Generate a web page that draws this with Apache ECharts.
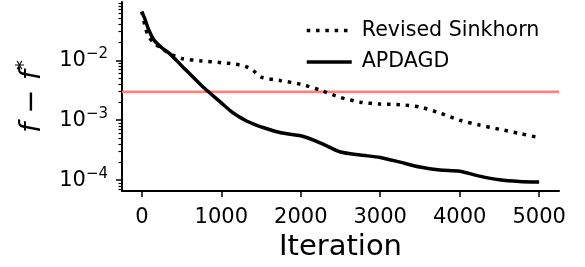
<!DOCTYPE html>
<html>
<head>
<meta charset="utf-8">
<script src="https://cdn.jsdelivr.net/npm/echarts@6/dist/echarts.min.js"></script>
<style>
  html, body { margin: 0; padding: 0; background: #fff; }
  #main { width: 585px; height: 267px; }
</style>
</head>
<body>
<div id="main"></div>
<script>
// 数据
var iterations = [0, 40, 80, 150, 250, 350, 500, 750, 1000, 1150, 1300, 1400, 1500, 1750, 2000,
  2250, 2500, 2750, 3000, 3250, 3500, 3750, 4000, 4250, 4500, 4750, 5000];
var sinkhornErr = [0.0646, 0.0372, 0.0257, 0.0195, 0.0158, 0.0129, 0.0107, 0.00977, 0.00912, 0.00871,
  0.00794, 0.00676, 0.00525, 0.00457, 0.00398, 0.00316, 0.00240, 0.00200, 0.00186, 0.00182,
  0.00166, 0.00132, 0.00100, 0.000832, 0.000708, 0.000603, 0.000513];
var apdagdErr = [0.0646, 0.0479, 0.0339, 0.0219, 0.0162, 0.0129, 0.00813, 0.00380, 0.00195, 0.00132,
  0.00100, 0.000871, 0.000776, 0.000617, 0.000550, 0.000417, 0.000295, 0.000263, 0.000240, 0.000200,
  0.000166, 0.000148, 0.000141, 0.000117, 0.000102, 0.0000955, 0.0000933];
var thresholdLevel = 0.003;

// 坐标轴范围和刻度
var xMin = -250, xMax = 5250;
var yMin = Math.pow(10, -4.18), yMax = Math.pow(10, -1.028);
var xTicks = [0, 1000, 2000, 3000, 4000, 5000];
var yMajorTicks = [1e-4, 1e-3, 1e-2];
var yMinorTicks = [];
for (var k = -5; k <= -2; k++) {
  for (var m = 2; m <= 9; m++) {
    yMinorTicks.push(m * Math.pow(10, k));
  }
}

function pairs(xs, ys) {
  var out = [];
  for (var i = 0; i < xs.length; i++) out.push([xs[i], ys[i]]);
  return out;
}

var font = 'DejaVu Sans';
var myChart = echarts.init(document.getElementById('main'));

var option = {
  animation: false,
  grid: {
    left: 122,
    right: 26,
    top: 2,
    bottom: 73
  },
  legend: {
    orient: 'vertical',
    left: 300,
    top: 15,
    itemWidth: 45,
    itemHeight: 14,
    itemGap: 10.4,
    data: ['Revised Sinkhorn', 'APDAGD'],
    itemStyle: { opacity: 0 },
    lineStyle: { width: 3.5 },
    textStyle: {
      fontFamily: font,
      fontSize: 20.6,
      color: '#000',
      lineHeight: 21,
      padding: [0, 0, 0, 5]
    }
  },
  xAxis: {
    type: 'value',
    min: xMin,
    max: xMax,
    name: 'Iteration',
    nameLocation: 'middle',
    nameGap: 42,
    nameTextStyle: { fontFamily: font, fontSize: 29, color: '#000' },
    splitLine: { show: false },
    axisLine: { onZero: false, lineStyle: { color: '#000', width: 2 } },
    axisTick: { customValues: xTicks, length: 6, lineStyle: { color: '#000', width: 1.5 } },
    axisLabel: {
      customValues: xTicks,
      fontFamily: font,
      fontSize: 21,
      color: '#000',
      margin: 16,
      formatter: function (v) { return String(v); }
    }
  },
  yAxis: [
    {
      type: 'log',
      min: yMin,
      max: yMax,
      name: '{i|f}{n| − }{i|f}{s|*}',
      nameLocation: 'middle',
      nameRotate: 90,
      nameGap: 72,
      nameMoveOverlap: false,
      nameTextStyle: {
        fontFamily: font,
        fontSize: 29,
        color: '#000',
        rich: {
          i: { fontFamily: font, fontSize: 29, fontStyle: 'italic', color: '#000' },
          n: { fontFamily: font, fontSize: 29, color: '#000' },
          s: { fontFamily: font, fontSize: 20, color: '#000', padding: [0, 0, 16, 0] }
        }
      },
      splitLine: { show: false },
      axisLine: { show: true, onZero: false, lineStyle: { color: '#000', width: 2 } },
      axisTick: { customValues: yMajorTicks, length: 6, lineStyle: { color: '#000', width: 1.5 } },
      axisLabel: {
        customValues: yMajorTicks,
        margin: 14,
        formatter: function (v) {
          var e = Math.round(Math.log10(v));
          return '{b|10}{e|−' + (-e) + '}';
        },
        rich: {
          b: { fontFamily: font, fontSize: 21, color: '#000' },
          e: { fontFamily: font, fontSize: 15, color: '#000', padding: [0, 0, 12, 0] }
        }
      }
    },
    {
      type: 'log',
      min: yMin,
      max: yMax,
      position: 'left',
      splitLine: { show: false },
      axisLine: { show: false, onZero: false },
      axisLabel: { show: false },
      axisTick: { customValues: yMinorTicks, length: 3.5, lineStyle: { color: '#000', width: 1.2 } }
    }
  ],
  series: [
    {
      // 红色参考线，横跨整个x轴范围
      name: 'threshold',
      type: 'line',
      z: 1,
      symbol: 'none',
      silent: true,
      data: [[xMin, thresholdLevel], [xMax, thresholdLevel]],
      lineStyle: { color: '#ff7f7f', width: 2.5 }
    },
    {
      name: 'Revised Sinkhorn',
      type: 'line',
      z: 3,
      symbol: 'none',
      smooth: 0.25,
      data: pairs(iterations, sinkhornErr),
      lineStyle: { color: '#000', width: 3.5, type: [3.5, 5.8], cap: 'butt' },
      itemStyle: { color: '#000' }
    },
    {
      name: 'APDAGD',
      type: 'line',
      z: 3,
      symbol: 'none',
      smooth: 0.25,
      data: pairs(iterations, apdagdErr),
      lineStyle: { color: '#000', width: 3.5 },
      itemStyle: { color: '#000' }
    }
  ]
};

myChart.setOption(option);
</script>
</body>
</html>
